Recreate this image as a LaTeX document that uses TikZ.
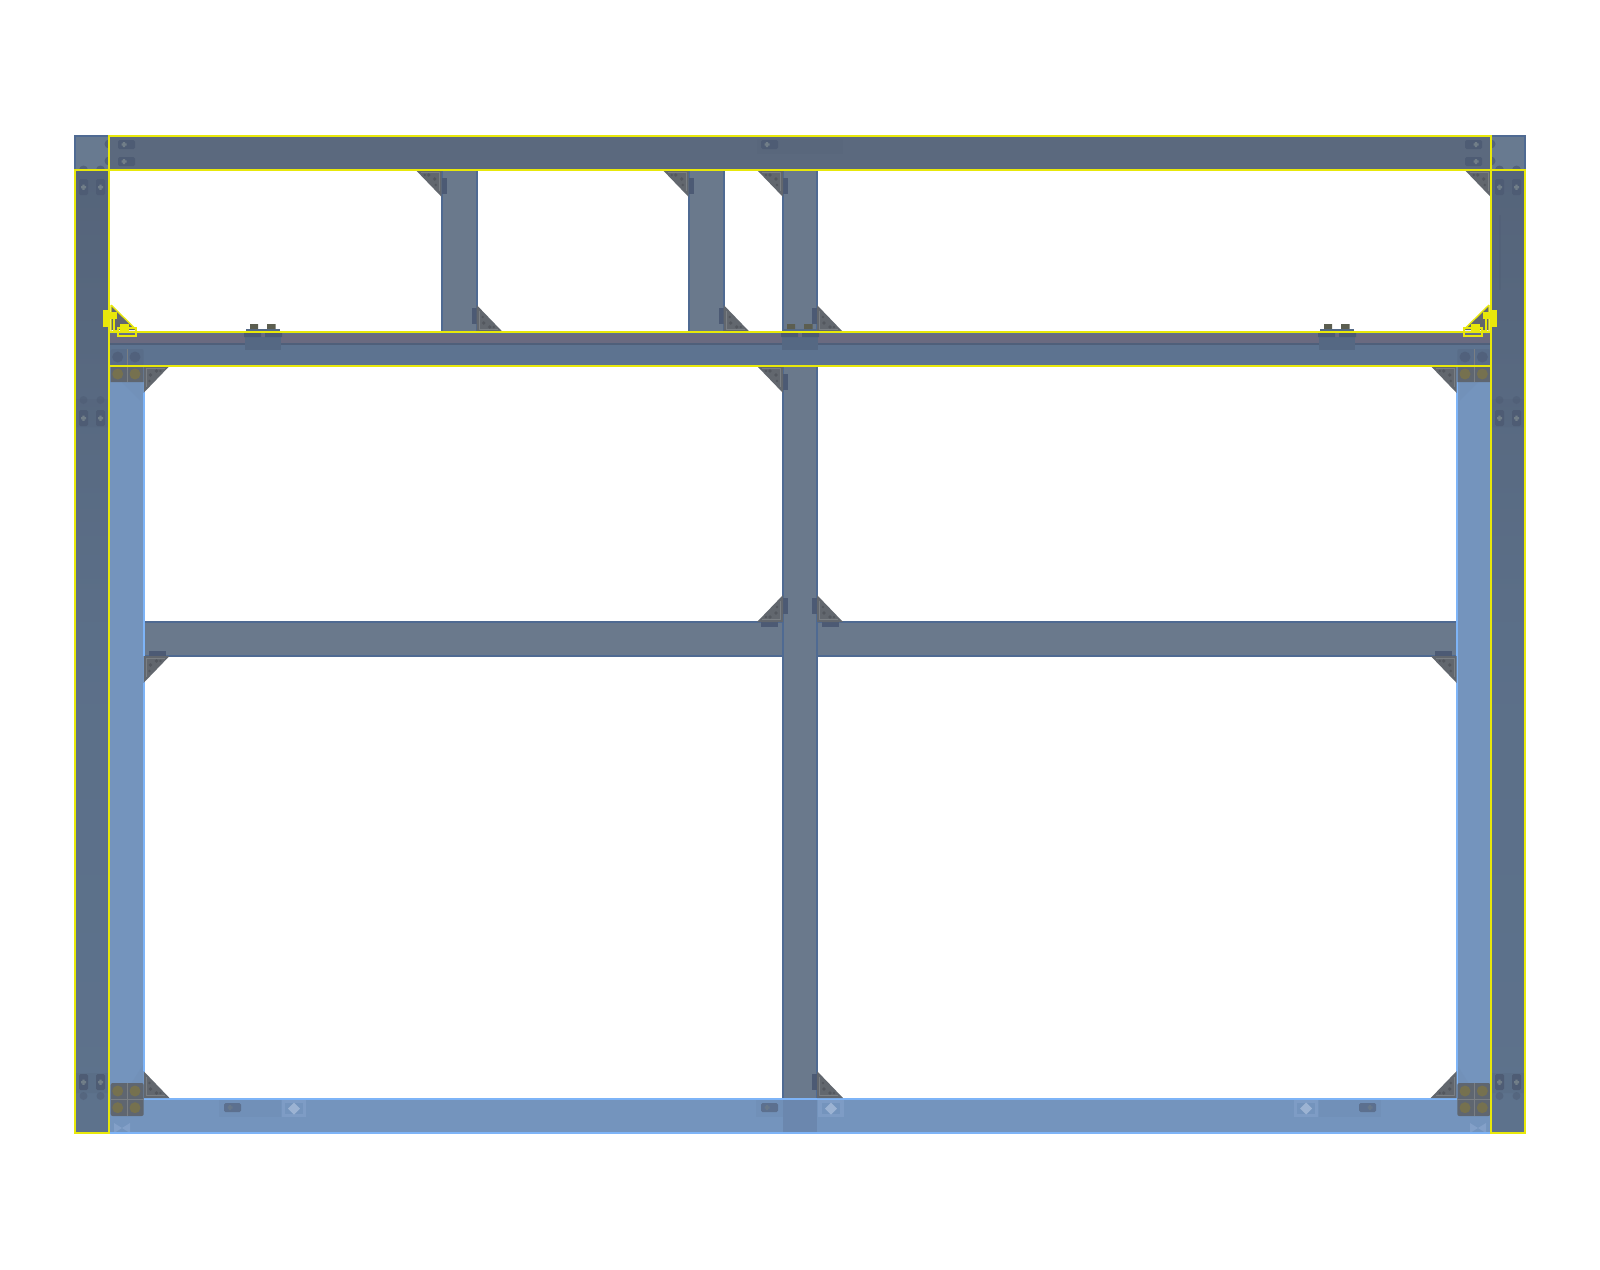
\documentclass[tikz,border=0pt]{standalone}
\definecolor{dkA}{HTML}{55647A}
\definecolor{dkB}{HTML}{5D728C}
\definecolor{beamD}{HTML}{5B697E}
\definecolor{corner}{HTML}{687A90}
\definecolor{grayC}{HTML}{6A798C}
\definecolor{grayE}{HTML}{4F6A92}
\definecolor{blueC}{HTML}{7494BD}
\definecolor{blueE}{HTML}{7EB4F7}
\definecolor{yel}{HTML}{E8E80A}
\definecolor{gus}{HTML}{62676E}
\definecolor{gusL}{HTML}{7A7F84}
\definecolor{plate}{HTML}{4C5A74}
\definecolor{tagc}{HTML}{4E5C74}
\definecolor{tagd}{HTML}{717E88}
\definecolor{olive}{HTML}{76714F}
\definecolor{padg}{HTML}{5F6670}
\definecolor{oliveB}{HTML}{5C5E50}
\definecolor{purp}{HTML}{6A6A80}
\definecolor{beamL}{HTML}{5D7390}
\definecolor{padc}{HTML}{6F8DB5}
\definecolor{padL}{HTML}{83A0C8}
\tikzset{
  yline/.style={draw=yel,line width=2pt},
  bline/.style={draw=blueE,line width=2pt},
  eline/.style={draw=grayE,line width=2pt},
}
% gusset: right angle at (0,0), legs +x and -y in local frame
\newcommand\gset[5][]{%
  \begin{scope}[shift={(#2,#3)},xscale=#4,yscale=#5]
    #1
    \fill[gus] (0,0) -- (26,0) -- (0,-27) -- cycle;
    \draw[gusL,line width=1pt] (21,-2.2) -- (2.5,-2.2) -- (2.5,-21);
    \fill[gus!85!black] (7,-9) circle (1.8) (13,-5) circle (1.8) (6,-15) circle (1.3) (17,-5) circle (1.3);
  \end{scope}}
\newcommand\vp{\fill[plate] (-5,-24) rectangle (0,-8);}
\newcommand\hp{\fill[plate] (5,0) rectangle (22,5);}
% tags with a cross
\newcommand\htag[3]{% x left, y top, cross centre
  \begin{scope}[shift={(#1,#2)}]
    \fill[tagc,rounded corners=1.5pt] (0,0) rectangle (17,9);
    \fill[tagd] (#3-2.5,3.3) rectangle ++(5,2.4) (#3-1.2,2) rectangle ++(2.4,5);
  \end{scope}}
\newcommand\vtag[2]{%
  \begin{scope}[shift={(#1,#2)}]
    \fill[tagc,rounded corners=1.5pt] (0,0) rectangle (9,16);
    \fill[tagd] (2,7) rectangle ++(5,2.4) (3.3,5.5) rectangle ++(2.4,5.4);
  \end{scope}}
% bracket on the horizontal beam
\newcommand\brk[1]{%
  \begin{scope}[shift={(#1,0)}]
    \fill[plate!45!beamL] (-18,337) rectangle (18,350);
    \fill[grayE!50!beamD] (-17,329) rectangle (17,332);
    \fill[plate] (-19,333) rectangle (-2,337) (2,333) rectangle (19,337);
    \fill[oliveB] (-13,324) rectangle (-5,329) (4,324) rectangle (12.5,329);
  \end{scope}}
\newcommand\pad[2]{% x left, y top
  \begin{scope}[shift={(#1,#2)}]
    \fill[padg,rounded corners=2pt] (0,0) rectangle (33,33);
    \draw[gusL,line width=.6pt] (16.5,0) -- (16.5,33);
  \end{scope}}
\begin{document}
\begin{tikzpicture}[x=1pt,y=-1pt]
\useasboundingbox (0,0) rectangle (1600,1269);
\fill[white] (0,0) rectangle (1600,1269);
% upper columns
\foreach \xa/\xb in {441.7/476.7,688.7/723.7,783/817}{
  \fill[grayC] (\xa,170) rectangle (\xb,332);
  \draw[eline] (\xa,170) -- (\xa,332) (\xb,170) -- (\xb,332);
}
% mid beam
\fill[grayC] (143.5,622) rectangle (1456.7,656);
\draw[grayE,line width=1.2pt] (143.5,622) -- (1456.7,622) (143.5,656) -- (1456.7,656);
% centre column
\fill[grayC] (783,366) rectangle (817,1098);
\draw[eline] (783,366) -- (783,1098) (817,366) -- (817,1098);
% blue columns
\fill[blueC] (109,366) rectangle (143.5,1098);
\fill[blueC] (1456.7,366) rectangle (1491,1098);
\fill[padc!45!blueC] (143,1065) -- (143,1098) -- (122,1098) -- cycle;
\fill[padc!45!blueC] (1457,1065) -- (1457,1098) -- (1478,1098) -- cycle;
\fill[padc!45!blueC] (140,400) -- (140,382) -- (122,382) -- cycle;
\fill[padc!45!blueC] (1460,400) -- (1460,382) -- (1478,382) -- cycle;
\draw[bline] (143.5,366) -- (143.5,1098) (1456.7,366) -- (1456.7,1098);
% blue beam
\fill[blueC] (109,1098) rectangle (1491,1133);
\fill[padc!96!black] (783,1098) rectangle (817,1133);
\fill[padc!60!blueC] (219,1100) rectangle (281,1117);
\fill[padL!70!blueC] (282,1100) rectangle (306,1117);
\fill[padc!60!blueC] (756,1100) rectangle (783,1117);
\fill[padL!70!blueC] (818,1100) rectangle (844,1117);
\fill[padc!60!blueC] (1319,1100) rectangle (1381,1117);
\fill[padL!70!blueC] (1294,1100) rectangle (1318,1117);
\foreach \c in {294,831,1306}{
  \fill[blueC] (\c-9,1103) rectangle (\c+9,1114);
  \fill[padL!80!white] (\c-6,1108.5) -- (\c,1102.5) -- (\c+6,1108.5) -- (\c,1114.5) -- cycle;
}
\foreach \c in {122,1478}{
  \fill[padL] (\c-8,1123) -- (\c,1128) -- (\c+8,1123) -- (\c+8,1133) -- (\c,1128) -- (\c-8,1133) -- cycle;
}
\begin{scope}[opacity=.6]
\htag{224}{1103}{6}
\htag{761}{1103}{6}
\htag{1359}{1103}{11}
\end{scope}
\draw[bline] (143.5,1098.7) -- (1456.7,1098.7);
\draw[blueE,line width=1.5pt] (109,1133) -- (1491,1133);
% outer columns
\shade[top color=dkA,bottom color=dkB,middle color=dkB!80!dkA] (75,170) rectangle (109,1133);
\shade[top color=dkA,bottom color=dkB,middle color=dkB!80!dkA] (1491,170) rectangle (1525,1133);
\fill[tagc,opacity=.18] (75,399) rectangle (109,427) (1491,399) rectangle (1525,427);
\fill[tagc,opacity=.18] (75,1073) rectangle (109,1093) (1491,1073) rectangle (1525,1093);
\fill[tagc,opacity=.35] (1499,215) rectangle (1501,290);
\foreach \x in {83.5,100.5,1499.5,1516.5}{
  \fill[tagc,opacity=.5] (\x,400) circle (4);
  \fill[tagc,opacity=.5] (\x,1096) circle (4);
  \vtag{\x-4.5}{179}
  \vtag{\x-4.5}{410}
  \vtag{\x-4.5}{1074}
}
% corner squares
\fill[corner] (75,136) rectangle (109,170);
\fill[corner] (1491,136) rectangle (1525,170);
\draw[grayE,line width=1.2pt] (75,170) -- (75,136) -- (109,136) (1525,170) -- (1525,136) -- (1491,136);
\begin{scope}
  \clip (75,136) rectangle (109,170);
  \fill[tagc!80!corner] (83.5,170) circle (4.5) (100.5,170) circle (4.5) (109,144) circle (4.5) (109,161) circle (4.5);
\end{scope}
\begin{scope}
  \clip (1491,136) rectangle (1525,170);
  \fill[tagc!80!corner] (1499.5,170) circle (4.5) (1516.5,170) circle (4.5) (1491,144) circle (4.5) (1491,161) circle (4.5);
\end{scope}
% top beam
\fill[beamD] (109,136) rectangle (1491,170);
\fill[tagc,opacity=.1] (757,139) rectangle (843,154);
\htag{118}{140}{6}
\htag{118}{157}{6}
\htag{761}{140}{6}
\htag{1465}{140}{11}
\htag{1465}{157}{11}
% horizontal beam
\fill[beamL] (109,332) rectangle (1491,366);
\fill[purp] (109,334) rectangle (1491,343);
\fill[plate!80!beamL] (109,343) rectangle (1491,345);
% brackets
\brk{263}\brk{800}\brk{1337}
% bolt pads
\fill[plate!25!beamL,rounded corners=2pt] (110.7,366) -- (110.7,349) -- (143.7,349) -- (143.7,366) -- cycle;
\fill[plate!25!beamL,rounded corners=2pt] (1457.3,366) -- (1457.3,349) -- (1490.3,349) -- (1490.3,366) -- cycle;
\fill[plate!70!beamL] (117.7,357) circle (5.5) (135,357) circle (5.5) (1465,357) circle (5.5) (1482.3,357) circle (5.5);
\fill[padg] (110.7,366) rectangle (143.7,382) (1457.3,366) rectangle (1490.3,382);
\draw[gusL,line width=.6pt] (127.2,349) -- (127.2,382) (1473.8,349) -- (1473.8,382);
\fill[olive] (117.7,374) circle (5.5) (135,374) circle (5.5) (1465,374) circle (5.5) (1482.3,374) circle (5.5);
\pad{110.7}{1083}
\pad{1457.3}{1083}
\draw[gusL,line width=.6pt] (110.7,1099.5) -- (143.7,1099.5) (1457.3,1099.5) -- (1490.3,1099.5);
\fill[olive] (117.7,1091) circle (5.5) (135,1091) circle (5.5) (117.7,1107.7) circle (5.5) (135,1107.7) circle (5.5);
\fill[olive] (1465,1091) circle (5.5) (1482.3,1091) circle (5.5) (1465,1107.7) circle (5.5) (1482.3,1107.7) circle (5.5);
% gussets
\gset[\vp]{441.7}{170}{-1}{-1}
\gset[\vp]{688.7}{170}{-1}{-1}
\gset[\vp]{783}{170}{-1}{-1}
\gset{1490.7}{170}{-1}{-1}
\gset[\vp]{476.7}{332}{1}{1}
\gset[\vp]{723.7}{332}{1}{1}
\gset[\vp]{817}{332}{1}{1}
\gset{143.5}{366}{1}{-1}
\gset[\vp]{783}{366}{-1}{-1}
\gset{1456.7}{366}{-1}{-1}
\gset[\vp\hp]{783}{622}{-1}{1}
\gset[\vp\hp]{817}{622}{1}{1}
\gset[\hp]{143.5}{656}{1}{-1}
\gset[\hp]{1456.7}{656}{-1}{-1}
\gset{143.5}{1098}{1}{1}
\gset{1456.7}{1098}{-1}{1}
\gset[\vp]{817}{1098}{1}{1}
% yellow outlines
\draw[yline] (75,170) rectangle (109,1133);
\draw[yline] (1491,170) rectangle (1525,1133);
\draw[yline] (109,136) rectangle (1491,170);
\draw[yline] (109,332) rectangle (1491,366);
% yellow triangles (outline gussets)
\foreach \sx/\ox in {1/109,-1/1491}{
\begin{scope}[shift={(\ox,0)},xscale=\sx]
  \fill[gus] (2,305) -- (27,330) -- (2,330) -- cycle;
  \draw[yel,line width=1.4pt] (2,305) -- (27,329.5) (2,305) -- (2,332);
  \draw[yel,line width=1.4pt] (5,318) -- (5,331) -- (10,331);
  \fill[yel] (-6,310) rectangle (1,327);
  \fill[yel] (1,312) rectangle (8,319);
  \draw[yel,line width=1.4pt] (9,328) rectangle (27,336);
  \fill[yel] (11,323.5) rectangle (20,332);
  \draw[yel,line width=.8pt] (9,332) -- (27,332);
\end{scope}}
\end{tikzpicture}
\end{document}
